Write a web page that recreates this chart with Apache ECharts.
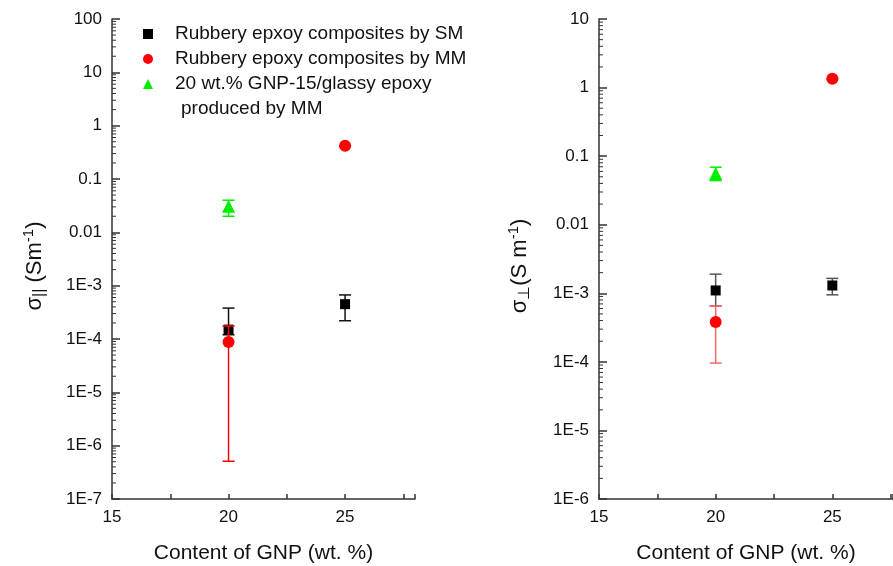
<!DOCTYPE html>
<html>
<head>
<meta charset="utf-8">
<script src="https://cdn.jsdelivr.net/npm/echarts@6/dist/echarts.min.js"></script>
<style>
  html, body { margin: 0; padding: 0; background: #fff; }
  #main { width: 893px; height: 566px; }
</style>
</head>
<body>
<div id="main"></div>
<script>
// series names
const nameSM = 'Rubbery epxoy composites by SM';
const nameMM = 'Rubbery epoxy composites by MM';
const nameGlassy = '20 wt.% GNP-15/glassy epoxy';

// GNP content (wt. %)
const smX = [20, 25];
const mmX = [20, 25];
const glassyX = [20];

// left panel: sigma parallel (S/m)
const parSM = [1.5e-4, 4.5e-4];
const parSMLow = [1.2e-4, 2.2e-4];
const parSMHigh = [3.8e-4, 6.7e-4];
const parMM = [8.8e-5, 0.42];
const parMMLow = [5.1e-7, 0.42];
const parMMHigh = [1.75e-4, 0.42];
const parGlassy = [0.031];
const parGlassyLow = [0.02];
const parGlassyHigh = [0.04];

// right panel: sigma perpendicular (S/m)
const perSM = [1.1e-3, 1.3e-3];
const perSMLow = [6.5e-4, 9.5e-4];
const perSMHigh = [1.9e-3, 1.65e-3];
const perMM = [3.8e-4, 1.35];
const perMMLow = [9.6e-5, 1.35];
const perMMHigh = [6.5e-4, 1.35];
const perGlassy = [0.056];
const perGlassyLow = [0.044];
const perGlassyHigh = [0.069];

// tick labels
const yTickValues = [100, 10, 1, 0.1, 0.01, 1e-3, 1e-4, 1e-5, 1e-6, 1e-7];
const yTickLabels = ['100', '10', '1', '0.1', '0.01', '1E-3', '1E-4', '1E-5', '1E-6', '1E-7'];
const xTickLabels = ['15', '20', '25'];

const pts = (xs, ys) => xs.map((x, i) => [x, ys[i]]);
const bars = (xs, lo, hi) => xs.map((x, i) => [x, lo[i], hi[i]]);

// minor ticks at 2..9 of each decade
function minorTicks(lo, hi) {
  const out = [];
  for (let e = lo; e < hi; e++) {
    for (let k = 2; k <= 9; k++) out.push([k * Math.pow(10, e)]);
  }
  return out;
}

function yLabel(v) {
  for (let i = 0; i < yTickValues.length; i++) {
    if (Math.abs(Math.log10(v) - Math.log10(yTickValues[i])) < 1e-6) return yTickLabels[i];
  }
  return '';
}

function errorBar(color, width, capW) {
  return function (params, api) {
    const x = api.value(0);
    const lo = api.coord([x, api.value(1)]);
    const hi = api.coord([x, api.value(2)]);
    const style = { stroke: color, lineWidth: width };
    return {
      type: 'group',
      children: [
        { type: 'line', shape: { x1: lo[0], y1: lo[1], x2: hi[0], y2: hi[1] }, style },
        { type: 'line', shape: { x1: lo[0] - capW, y1: lo[1], x2: lo[0] + capW, y2: lo[1] }, style },
        { type: 'line', shape: { x1: hi[0] - capW, y1: hi[1], x2: hi[0] + capW, y2: hi[1] }, style }
      ]
    };
  };
}

function minorRender(params, api) {
  const p = api.coord([15, api.value(0)]);
  return {
    type: 'line',
    shape: { x1: p[0], y1: p[1], x2: p[0] + 4, y2: p[1] },
    style: { stroke: '#333', lineWidth: 1 }
  };
}

const font = 'Liberation Sans, Arial, sans-serif';

function xAxisFor(gridIndex, max) {
  return {
    type: 'value', gridIndex, min: 15, max, interval: 2.5,
    name: 'Content of GNP (wt. %)', nameLocation: 'middle', nameGap: 44,
    nameTextStyle: { fontSize: 21, color: '#111', fontFamily: font },
    axisLine: { lineStyle: { color: '#333', width: 1.5 } },
    axisTick: { inside: true, length: 5, lineStyle: { color: '#333', width: 1.5 } },
    axisLabel: {
      fontSize: 17, color: '#111', fontFamily: font, margin: 10,
      formatter: v => xTickLabels.indexOf(String(v)) >= 0 ? String(v) : ''
    },
    splitLine: { show: false }
  };
}

function yAxisFor(gridIndex, min, max, nameRich, gap) {
  return {
    type: 'log', logBase: 10, gridIndex, min, max, interval: 1,
    name: nameRich, nameLocation: 'middle', nameGap: gap, nameRotate: 90,
    nameTextStyle: {
      fontFamily: font, color: '#111', padding: [0, 14, 0, 0],
      rich: {
        s: { fontSize: 22, fontFamily: font, color: '#111' },
        sub: { fontSize: 16, fontFamily: font, color: '#111', verticalAlign: 'bottom', padding: [10, 0, 0, 0] },
        sup: { fontSize: 15, fontFamily: font, color: '#111', verticalAlign: 'top', padding: [0, 0, 12, 0] }
      }
    },
    axisLine: { show: true, lineStyle: { color: '#333', width: 1.5 } },
    axisTick: { inside: true, length: 8, lineStyle: { color: '#333', width: 1.5 } },
    axisLabel: { fontSize: 17, color: '#111', fontFamily: font, margin: 10, formatter: yLabel },
    splitLine: { show: false }
  };
}

function panelSeries(idx, d) {
  return [
    { type: 'custom', xAxisIndex: idx, yAxisIndex: idx, data: d.minor, renderItem: minorRender, silent: true, z: 1 },
    { type: 'custom', name: nameSM, xAxisIndex: idx, yAxisIndex: idx, data: d.smBar, renderItem: errorBar(d.smBarColor, 1.5, 6), z: 2, itemStyle: { color: '#000' } },
    { type: 'scatter', name: nameSM, xAxisIndex: idx, yAxisIndex: idx, data: d.sm, symbol: 'rect', symbolSize: 10, itemStyle: { color: '#000', opacity: 1 }, z: 3 },
    { type: 'custom', name: nameMM, xAxisIndex: idx, yAxisIndex: idx, data: d.mmBar, renderItem: errorBar(d.mmBarColor, 1.5, 6), z: 4, itemStyle: { color: '#ff0000' } },
    { type: 'scatter', name: nameMM, xAxisIndex: idx, yAxisIndex: idx, data: d.mm, symbol: 'circle', symbolSize: 12, itemStyle: { color: '#ff0000', opacity: 1 }, z: 5 },
    { type: 'custom', name: nameGlassy, xAxisIndex: idx, yAxisIndex: idx, data: d.glBar, renderItem: errorBar('#00ee00', 1.5, 6), z: 6, itemStyle: { color: '#00ee00' } },
    { type: 'scatter', name: nameGlassy, xAxisIndex: idx, yAxisIndex: idx, data: d.gl, symbol: 'triangle', symbolSize: 13, itemStyle: { color: '#00ee00', opacity: 1 }, z: 7 }
  ];
}

const chart = echarts.init(document.getElementById('main'));
chart.setOption({
  backgroundColor: '#fff',
  animation: false,
  grid: [
    { left: 112, top: 19, width: 303, height: 480, outerBoundsMode: 'none' },
    { left: 599, top: 19, width: 294, height: 480, outerBoundsMode: 'none' }
  ],
  legend: {
    orient: 'vertical', left: 138, top: 18, itemGap: 3,
    itemWidth: 10, itemHeight: 10,
    data: [
      { name: nameSM, icon: 'rect', itemStyle: { color: '#000' } },
      { name: nameMM, icon: 'circle', itemStyle: { color: '#ff0000' } },
      { name: nameGlassy, icon: 'triangle', itemStyle: { color: '#00ee00' } }
    ],
    textStyle: { fontSize: 19, color: '#111', fontFamily: font, lineHeight: 22, padding: [0, 0, 0, 17] },
    selectedMode: false
  },
  graphic: [
    { type: 'text', left: 181, top: 99, style: { text: 'produced by MM', fontSize: 19, fill: '#111', fontFamily: font } }
  ],
  xAxis: [xAxisFor(0, 28), xAxisFor(1, 27.6)],
  yAxis: [
    yAxisFor(0, 1e-7, 100, '{s|σ}{sub|||}{s| (Sm}{sup|-1}{s|)}', 64),
    yAxisFor(1, 1e-6, 10, '{s|σ}{sub|⊥}{s|(S m}{sup|-1}{s|)}', 66)
  ],
  series: [
    ...panelSeries(0, {
      minor: minorTicks(-7, 2),
      sm: pts(smX, parSM), smBar: bars(smX, parSMLow, parSMHigh), smBarColor: '#111',
      mm: pts(mmX, parMM), mmBar: bars(mmX, parMMLow, parMMHigh), mmBarColor: '#ff0000',
      gl: pts(glassyX, parGlassy), glBar: bars(glassyX, parGlassyLow, parGlassyHigh)
    }),
    ...panelSeries(1, {
      minor: minorTicks(-6, 1),
      sm: pts(smX, perSM), smBar: bars(smX, perSMLow, perSMHigh), smBarColor: '#555',
      mm: pts(mmX, perMM), mmBar: bars(mmX, perMMLow, perMMHigh), mmBarColor: '#ff6666',
      gl: pts(glassyX, perGlassy), glBar: bars(glassyX, perGlassyLow, perGlassyHigh)
    })
  ]
});
</script>
</body>
</html>
